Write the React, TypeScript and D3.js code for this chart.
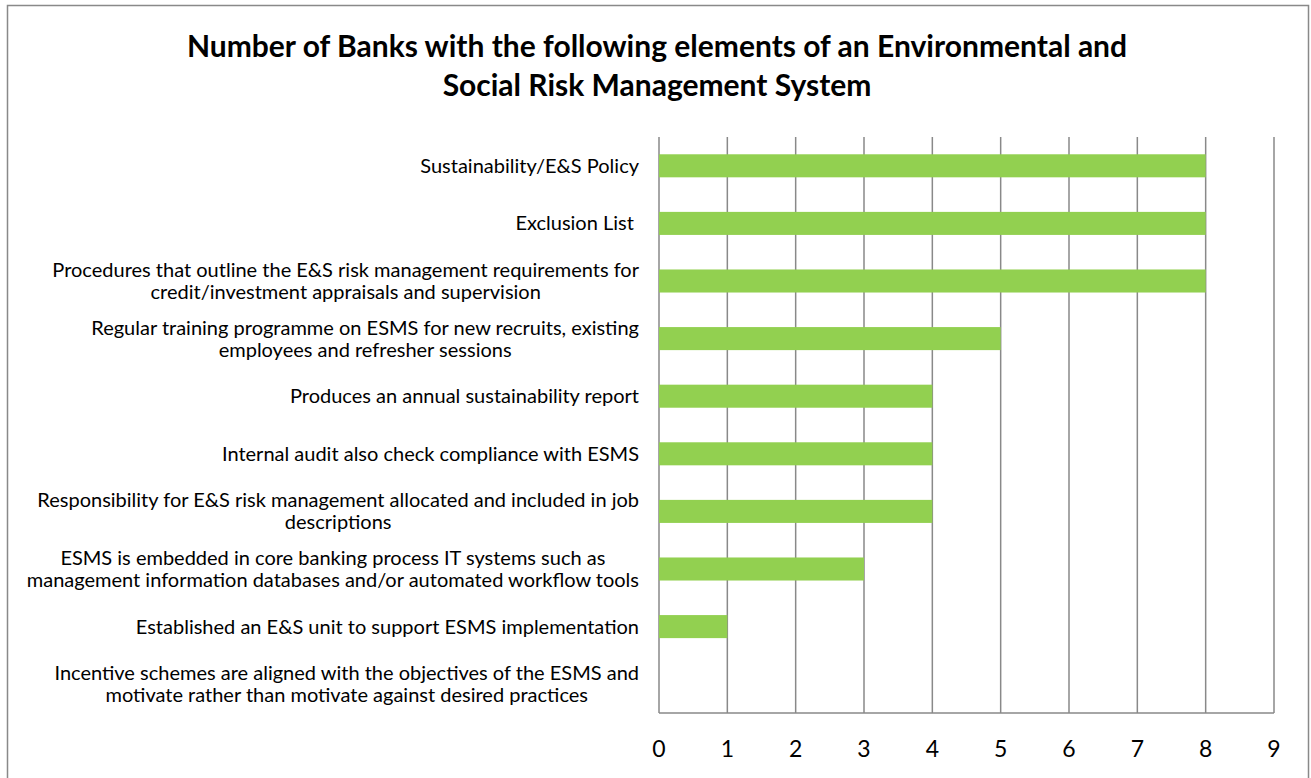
import React, { useRef, useEffect } from 'react';
import * as d3 from 'd3';

const labelLines: string[][] = [
  ['Sustainability/E&S Policy'],
  ['Exclusion List '],
  ['Procedures that outline the E&S risk management requirements for', 'credit/investment appraisals and supervision'],
  ['Regular training programme on ESMS for new recruits, existing', 'employees and refresher sessions'],
  ['Produces an annual sustainability report'],
  ['Internal audit also check compliance with ESMS'],
  ['Responsibility for E&S risk management allocated and included in job', 'descriptions'],
  ['ESMS is embedded in core banking process IT systems such as', 'management information databases and/or automated workflow tools'],
  ['Established an E&S unit to support ESMS implementation'],
  ['Incentive schemes are aligned with the objectives of the ESMS and', 'motivate rather than motivate against desired practices'],
];
const banks = [8, 8, 8, 5, 4, 4, 4, 3, 1, 0];
const xTicks = [0, 1, 2, 3, 4, 5, 6, 7, 8, 9];
const titleLines = [
  'Number of Banks with the following elements of an Environmental and',
  'Social Risk Management System',
];

const W = 1311;
const H = 778;
const FONT = 'Lato, "Open Sans", sans-serif';

const App: React.FC = () => {
  const ref = useRef<SVGSVGElement>(null);

  useEffect(() => {
    document.body.style.margin = '0';
    if (!ref.current) return;
    const svg = d3.select(ref.current);
    svg.selectAll('*').remove();

    const margin = { top: 137, right: 37, bottom: 65, left: 659 };
    const plotW = W - margin.left - margin.right;
    const plotH = H - margin.top - margin.bottom;

    // outer frame
    svg.append('rect')
      .attr('x', 7.5).attr('y', 5.5)
      .attr('width', 1301).attr('height', 790)
      .attr('fill', '#fff').attr('stroke', '#898989').attr('stroke-width', 1.5);

    // title
    svg.append('g').selectAll('text')
      .data(titleLines)
      .enter()
      .append('text')
      .attr('x', 657)
      .attr('y', (_, i) => 57 + i * 39)
      .attr('text-anchor', 'middle')
      .attr('font-family', FONT)
      .attr('font-weight', 'bold')
      .attr('font-size', 30)
      .attr('fill', '#000')
      .text(d => d);

    const g = svg.append('g').attr('transform', `translate(${margin.left},${margin.top})`);

    const x = d3.scaleLinear().domain([0, 9]).range([0, plotW]);
    const y = d3.scaleBand<number>()
      .domain(banks.map((_, i) => i))
      .range([0, plotH])
      .paddingInner(0.6)
      .paddingOuter(0.3);

    // vertical grid
    g.append('g')
      .selectAll('line')
      .data(xTicks)
      .enter()
      .append('line')
      .attr('x1', d => x(d)).attr('x2', d => x(d))
      .attr('y1', 0).attr('y2', plotH)
      .attr('stroke', '#898989').attr('stroke-width', 1.5);

    // bars
    g.append('g')
      .selectAll('rect')
      .data(banks)
      .enter()
      .append('rect')
      .attr('x', x(0))
      .attr('y', (_, i) => y(i)!)
      .attr('width', d => x(d) - x(0))
      .attr('height', y.bandwidth())
      .attr('fill', '#92D050');

    // bottom axis line
    g.append('line')
      .attr('x1', 0).attr('x2', plotW)
      .attr('y1', plotH).attr('y2', plotH)
      .attr('stroke', '#898989').attr('stroke-width', 1.5);

    // tick labels
    g.append('g')
      .selectAll('text')
      .data(xTicks)
      .enter()
      .append('text')
      .attr('x', d => x(d))
      .attr('y', plotH + 44)
      .attr('text-anchor', 'middle')
      .attr('font-family', FONT)
      .attr('font-size', 23)
      .attr('fill', '#000')
      .text(d => String(d));

    // category labels, each block centred on its widest line, right-aligned to the axis
    const labelRight = -20;
    const lineH = 22;
    labelLines.forEach((lines, i) => {
      const cy = y(i)! + y.bandwidth() / 2;
      const block = g.append('g');
      const texts = block.selectAll('text')
        .data(lines)
        .enter()
        .append('text')
        .attr('font-family', FONT)
        .attr('font-size', 20)
        .attr('fill', '#000')
        .attr('text-anchor', 'middle')
        .style('white-space', 'pre')
        .attr('y', (_, j) => cy + (j - (lines.length - 1) / 2) * lineH + 7)
        .text(d => d);
      let maxW = 0;
      texts.each(function () {
        maxW = Math.max(maxW, (this as SVGTextElement).getComputedTextLength());
      });
      texts.attr('x', labelRight - maxW / 2);
    });
  }, []);

  return <svg ref={ref} width={W} height={H} style={{ display: 'block', background: '#fff' }} />;
};

export default App;
